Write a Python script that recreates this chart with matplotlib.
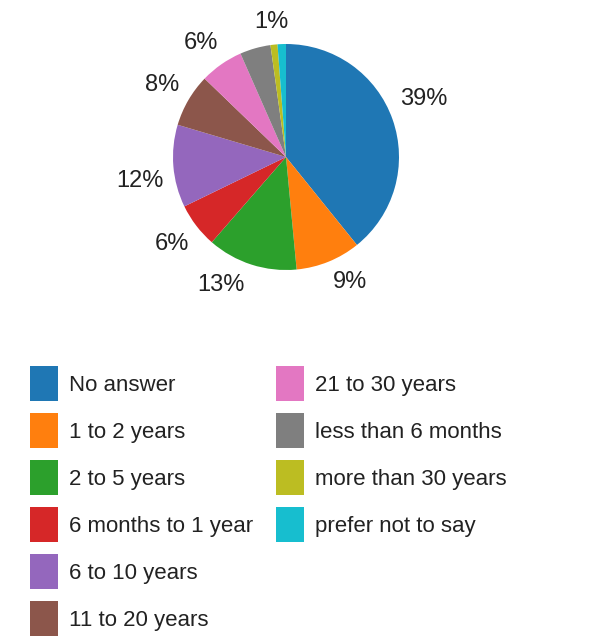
import numpy as np
import matplotlib.pyplot as plt
from matplotlib.patches import Patch

plt.rcParams['font.family'] = ['Liberation Sans', 'DejaVu Sans']

# share of answers (percent), clockwise from the top
categories = ['No answer', '1 to 2 years', '2 to 5 years', '6 months to 1 year',
              '6 to 10 years', '11 to 20 years', '21 to 30 years',
              'less than 6 months', 'more than 30 years', 'prefer not to say']
shares = [39.2, 9.3, 12.9, 6.4, 11.8, 7.6, 6.2, 4.4, 1.0, 1.2]
# which slices carry a percentage label
show_label = [True, True, True, True, True, True, True, False, True, False]
# small shifts (degrees, clockwise) the labels got to avoid each other
label_shift = {'No answer': -3.5, '1 to 2 years': -5, '2 to 5 years': 9,
               '6 to 10 years': -4.5, '21 to 30 years': -2}

colors = ['#1f77b4', '#ff7f0e', '#2ca02c', '#d62728', '#9467bd',
          '#8c564b', '#e377c2', '#7f7f7f', '#bcbd22', '#17becf']

W, H = 600, 636
fig = plt.figure(figsize=(W / 100, H / 100), dpi=100)

# pie centre and radius in pixels
cx, cy, R = 286, 157, 113
ext = 1.4
ax = fig.add_axes([(cx - ext * R) / W, (H - cy - ext * R) / H,
                   2 * ext * R / W, 2 * ext * R / H])
wedges, _ = ax.pie(shares, colors=colors, startangle=90, counterclock=False,
                   wedgeprops=dict(linewidth=0))
ax.set_xlim(-ext, ext)
ax.set_ylim(-ext, ext)
ax.set_aspect('auto')
ax.axis('off')

renderer = fig.canvas.get_renderer()
total = sum(shares)
gap = 10  # px between pie edge and label box
for w, cat, s, show in zip(wedges, categories, shares, show_label):
    if not show:
        continue
    ang = np.deg2rad((w.theta1 + w.theta2) / 2 - label_shift.get(cat, 0))
    t = ax.text(0, 0, f'{s / total * 100:.0f}%', ha='center', va='center',
                fontsize=17, color='#222222')
    bb = t.get_window_extent(renderer)
    half = bb.width / 2 * abs(np.cos(ang)) + bb.height / 2 * abs(np.sin(ang))
    r = (R + gap + half) / R
    t.set_position((r * np.cos(ang), r * np.sin(ang)))

# legend: six rows in the first column, four in the second
handles = [Patch(facecolor=c, edgecolor='none') for c in colors]
labels = list(categories)
for _ in range(2):
    handles.append(Patch(facecolor='none', edgecolor='none'))
    labels.append('')

fig.legend(handles, labels, ncol=2, loc='upper left',
           bbox_to_anchor=(30 / W, 1 - 366 / H), frameon=False,
           fontsize=16, handlelength=1.26, handleheight=2.05,
           handletextpad=0.5, labelspacing=0.54, columnspacing=1.04,
           borderaxespad=0, borderpad=0, labelcolor='#222222')

fig.savefig('out.png', dpi=100)
